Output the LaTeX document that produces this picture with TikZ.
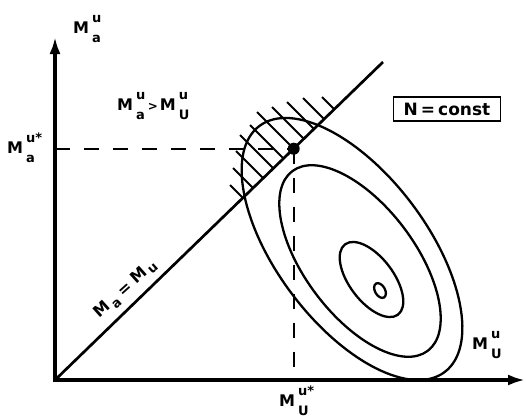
\documentclass[tikz,border=0pt]{standalone}
\usepackage{fontspec}
\setmainfont{DejaVu Sans}
\usetikzlibrary{arrows.meta}
\newcommand{\subfnt}{\fontsize{13}{13}\selectfont}
\newcommand{\Mlab}[2]{M\kern3pt\rlap{\raisebox{11pt}{\subfnt #1}}\raisebox{-9.5pt}{\subfnt #2}}
\begin{document}
\begin{tikzpicture}[x=1pt,y=-1pt,
  axis/.style={line width=3.2pt,-{Latex[length=17pt,width=11pt]}},
  curve/.style={line width=2.3pt},
  hatch/.style={line width=2.1pt},
  dashline/.style={line width=1.9pt,dash pattern=on 15pt off 14pt},
  lab/.style={font=\bfseries\fontsize{16}{16}\selectfont,inner sep=0pt}]
\useasboundingbox (0,0) rectangle (526,418);
% axes
\coordinate (O) at (55,380);
\coordinate (Ob) at (55,381.6);
\coordinate (Ol) at (53.4,380);
\coordinate (Ytip) at (55,37);
\coordinate (Xtip) at (525,380);
\coordinate (E) at (383,62);
\coordinate (P) at (293.7,148.7);
\coordinate (Py) at (55,148.7);
\coordinate (Px) at (293.7,380);
\draw[axis] (Ob) -- (Ytip);
\draw[axis] (Ol) -- (Xtip);
% diagonal
\draw[line width=2.7pt] (O) -- (E);
% contours
\draw[curve, rotate around={-53:(352,249)}] (352,249) ellipse [x radius=154pt, y radius=75pt];
\draw[curve, rotate around={-53:(360,261)}] (360,261) ellipse [x radius=112.5pt, y radius=55pt];
\draw[curve, rotate around={-53:(371.5,279.5)}] (371.5,279.5) ellipse [x radius=44pt, y radius=22pt];
\draw[curve, rotate around={-60:(380,290.5)}] (380,290.5) ellipse [x radius=8pt, y radius=5pt];
% hatching
\foreach \sx/\c in {322/225, 303/205, 287/185, 272/165, 257/145, 250/125, 240/105, 236/85, 233/65, 230/45}
  \draw[hatch] (\sx,{\sx-\c}) -- ({(\c+433.32)/1.96951},{(\c+433.32)/1.96951-\c});
% dashed guides
\draw[dashline] (Py) -- (P);
\draw[dashline] (P) -- (Px);
\fill (P) circle (6pt);
% labels
\node[lab, anchor=base west] (ly) at (73,33) {\Mlab{u}{a}};
\node[lab, anchor=base west] (lreg) at (117,110) {\Mlab{u}{a}\kern3pt{\fontsize{12}{12}\selectfont >}\kern2pt\Mlab{u}{U}};
\node[lab, anchor=base west] (lys) at (7,153) {\Mlab{u*}{a}};
\node[lab, anchor=base west] (lx) at (472,349) {\Mlab{u}{U}};
\node[lab, anchor=base west] (lxs) at (279,406) {\Mlab{u*}{U}};
\node[lab, rotate=42] (ldiag) at (126,290) {M\kern2pt\raisebox{-5pt}{\subfnt a}\kern5pt=\kern5pt M\kern2pt\raisebox{-3pt}{\subfnt u}};
\node[draw, line width=1.8pt, minimum width=107pt, minimum height=24pt, inner sep=0pt,
  font=\bfseries\fontsize{17}{17}\selectfont] (nc) at (447,109) {N\kern3pt=\kern3pt const};
\end{tikzpicture}
\end{document}
